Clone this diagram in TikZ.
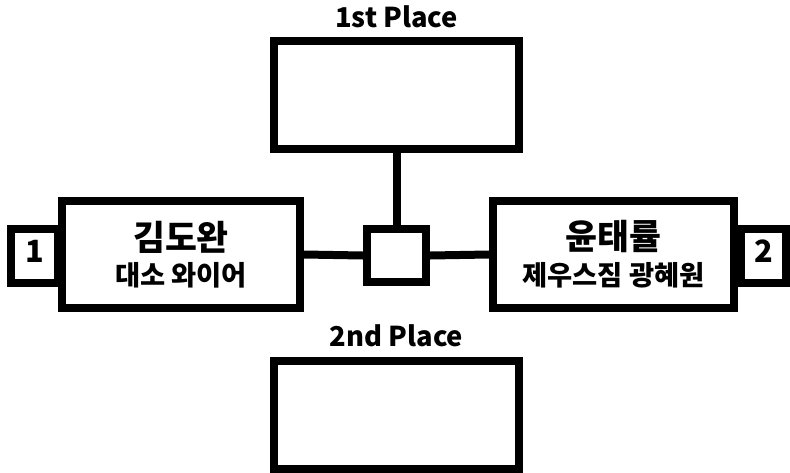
\documentclass[tikz,border=0pt]{standalone}
\usepackage{fontspec}
\setmainfont{Noto Sans CJK KR}[BoldFont={* Black}]
\usepackage{tikz}
\usetikzlibrary{positioning}

\begin{document}
\begin{tikzpicture}[
  x=0.75pt, y=-0.75pt,
  slot/.style={draw=black, line width=6pt, fill=white, minimum width=183.75pt, minimum height=81pt, inner sep=0pt},
  player/.style={draw=black, line width=6pt, fill=white, align=center, minimum height=80.25pt, inner sep=0pt},
  seed/.style={draw=black, line width=6pt, fill=white, minimum height=40.5pt, inner sep=0pt, text depth=7pt, font=\bfseries\fontsize{23}{26}\selectfont},
  place/.style={font=\bfseries\fontsize{20.5}{22}\selectfont, inner sep=0pt},
  conn/.style={line width=6pt, draw=black}
]
\useasboundingbox (0,0) rectangle (790,472);
% places
\node[place] (firstlbl) at (396.5,17) {1st Place};
\node[slot] (first) at (396.5,95) {};
\node[place] (secondlbl) at (396.5,336) {2nd Place};
\node[slot] (second) at (396.5,414.5) {};
% seeds
\node[seed, minimum width=35.25pt] (seedA) at (34.5,256) {1};
\node[seed, minimum width=33.75pt] (seedB) at (763.5,256) {2};
% players
\node[player, minimum width=178.5pt] (left) at (181,254.5)
  {\bfseries\fontsize{26}{28}\selectfont 김도완\\[6pt]\bfseries\fontsize{20.5}{22}\selectfont 대소 와이어};
\node[player, minimum width=180.75pt] (right) at (613.5,254.5)
  {\bfseries\fontsize{26}{28}\selectfont 윤태률\\[6pt]\bfseries\fontsize{20.5}{22}\selectfont 제우스짐 광혜원};
% hub
\node[draw=black, line width=6pt, fill=white, minimum width=44.25pt, minimum height=39.75pt, inner sep=0pt] (hub) at (396.5,255.5) {};
\draw[conn] (hub.west) -- (left.east);
\draw[conn] (hub.east) -- (right.west);
\draw[conn] (hub.north) -- (first.south);
\end{tikzpicture}
\end{document}
